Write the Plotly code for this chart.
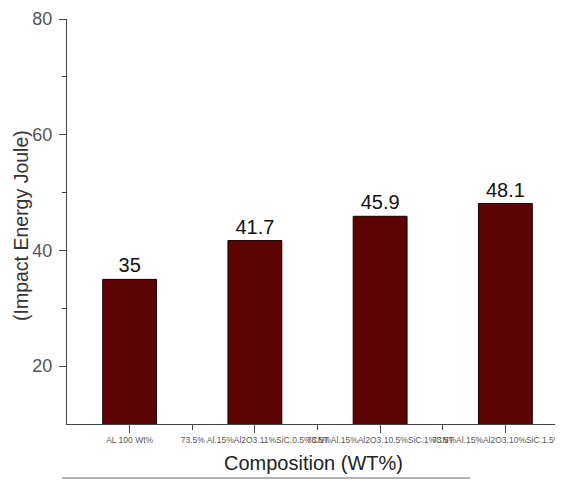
import plotly.graph_objects as go

categories = [
    "AL 100 Wt%",
    "73.5% Al.15%Al2O3.11%SiC.0.5%CNT",
    "73.5%Al.15%Al2O3.10.5%SiC.1%CNT",
    "73.5%Al.15%Al2O3.10%SiC.1.5%CNT",
]
impact_energy = [35, 41.7, 45.9, 48.1]
y_tick_vals = [20, 40, 60, 80]

x_pos = list(range(len(categories)))

# page body has an 8px default margin; compensate so the layout lands
# where the reference has it in the 563x481 window
OFF = 8
W, H = 563 - OFF, 481 - OFF
L, R, T, B = 67 - OFF, 0, 19 - OFF, 57

fig = go.Figure()
fig.add_trace(go.Bar(
    x=x_pos,
    y=impact_energy,
    width=0.43,
    marker=dict(color="#5c0303", line=dict(color="#1a0000", width=1)),
    text=[str(v) for v in impact_energy],
    textposition="outside",
    textfont=dict(family="Liberation Sans, Arial, sans-serif", size=20, color="#111"),
    cliponaxis=False,
))

fig.update_layout(
    width=W, height=H,
    margin=dict(l=L, r=R, t=T, b=B, autoexpand=False),
    paper_bgcolor="white", plot_bgcolor="white",
    showlegend=False,
    font=dict(family="Liberation Sans, Arial, sans-serif"),
    xaxis=dict(
        range=[-0.5, 3.46],
        tickmode="array", tickvals=x_pos, ticktext=categories,
        tickangle=0, automargin=False, ticklabeloverflow="allow",
        tickfont=dict(size=8.5, color="#555"),
        ticks="outside", ticklen=8, tickcolor="#444", tickwidth=1,
        showline=True, linecolor="#444", linewidth=1,
        showgrid=False, zeroline=False,
        minor=dict(tickmode="array", tickvals=[0.5, 1.5, 2.5], ticks="outside",
                   ticklen=5, tickcolor="#444", tickwidth=1, showgrid=False),
    ),
    yaxis=dict(
        range=[10, 80], automargin=False,
        tickmode="array", tickvals=y_tick_vals,
        tickfont=dict(size=18, color="#555"),
        ticklabelstandoff=3,
        ticks="outside", ticklen=7, tickcolor="#444", tickwidth=1,
        showline=True, linecolor="#444", linewidth=1,
        showgrid=False, zeroline=False,
        minor=dict(tickmode="array", tickvals=[30, 50, 70], ticks="outside",
                   ticklen=4, tickcolor="#444", tickwidth=1, showgrid=False),
    ),
)

pw, ph = W - L - R, H - T - B
def px_x(px):
    return (px - OFF - L) / pw
def px_y(py):
    return (H - B - (py - OFF)) / ph

fig.add_annotation(text="(Impact Energy Joule)", x=px_x(21), y=px_y(226),
                   xref="paper", yref="paper", showarrow=False, textangle=-90,
                   font=dict(size=19.5, color="#333"), xanchor="center", yanchor="middle")
fig.add_annotation(text="Composition (WT%)", x=px_x(313), y=px_y(463),
                   xref="paper", yref="paper", showarrow=False,
                   font=dict(size=20, color="#222"), xanchor="center", yanchor="middle")
fig.add_shape(type="line", xref="paper", yref="paper",
              x0=px_x(62), x1=px_x(470), y0=px_y(478), y1=px_y(478),
              line=dict(color="#666", width=1))

fig.write_html("out.html")
